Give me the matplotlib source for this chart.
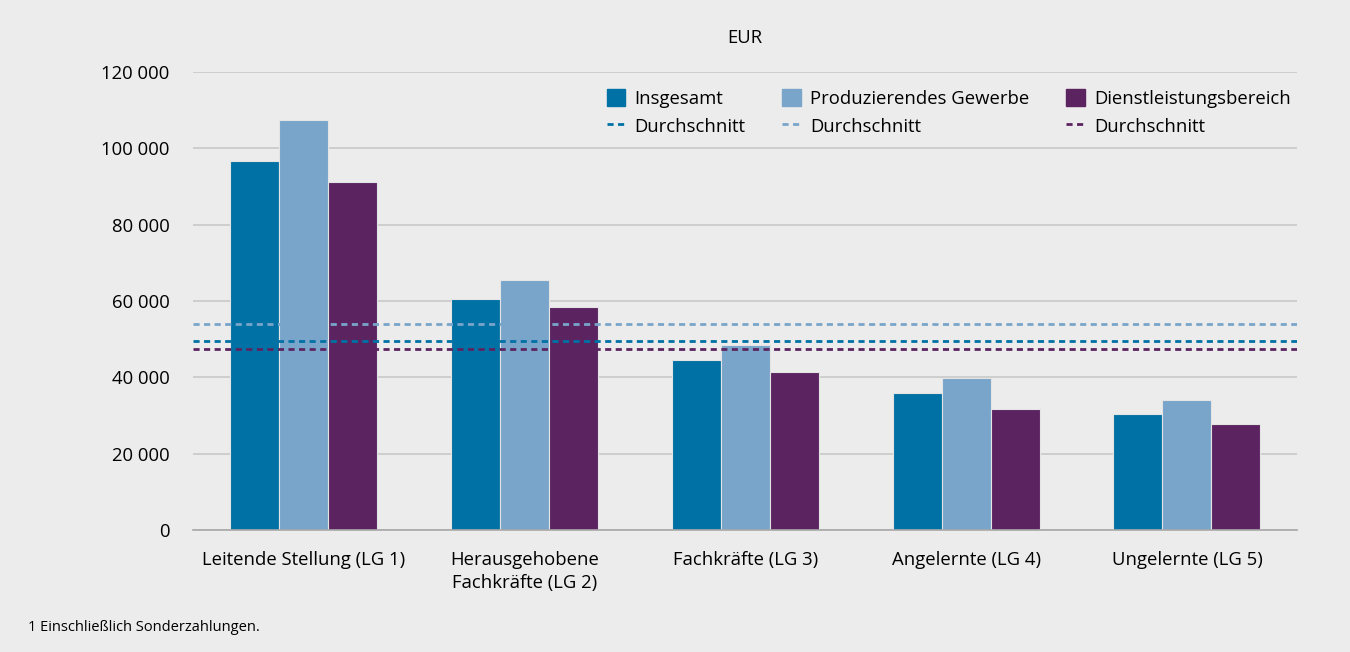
import matplotlib.pyplot as plt
import matplotlib.patches as mpatches
import matplotlib.lines as mlines
import numpy as np

plt.rcParams['font.family'] = ['Open Sans', 'DejaVu Sans']

# categories and values (EUR)
categories = ['Leitende Stellung (LG 1)', 'Herausgehobene\nFachkräfte (LG 2)',
              'Fachkräfte (LG 3)', 'Angelernte (LG 4)', 'Ungelernte (LG 5)']
insgesamt = [96700, 60500, 44500, 36000, 30300]
produzierend = [107400, 65500, 48500, 39900, 34100]
dienstleistung = [91200, 58400, 41400, 31700, 27800]

# averages
avg_insgesamt = 49600
avg_produzierend = 53900
avg_dienstleistung = 47400

series_names = ['Insgesamt', 'Produzierendes Gewerbe', 'Dienstleistungsbereich']
colors = ['#0071a4', '#79a5ca', '#5b2460']
bg = '#ececec'
fs = 13.3

fig = plt.figure(figsize=(13.5, 6.52), dpi=100, facecolor=bg)
ax = fig.add_axes([0.143, 0.187, 0.818, 0.703])
ax.set_facecolor(bg)

x = np.arange(len(categories))
w = 0.222
for i, (vals, c) in enumerate(zip([insgesamt, produzierend, dienstleistung], colors)):
    ax.bar(x + (i - 1) * w, vals, width=w, color=c, edgecolor='#e4e4e4',
           linewidth=0.8, zorder=2)

# average lines
avgs = [avg_insgesamt, avg_produzierend, avg_dienstleistung]
for a, c in zip(avgs, colors):
    ax.axhline(a, color=c, linestyle=(0, (2.2, 1.6)), linewidth=2, zorder=3)

ax.set_xlim(-0.5, 4.5)
ax.set_ylim(0, 120000)
ax.set_yticks(np.arange(0, 120001, 20000))
ax.set_yticklabels([f'{v:,}'.replace(',', ' ') for v in range(0, 120001, 20000)])
ax.set_xticks(x)
ax.set_xticklabels(categories, fontsize=fs, linespacing=1.35)
ax.tick_params(axis='both', length=0, labelsize=fs)
ax.tick_params(axis='y', pad=17)
ax.tick_params(axis='x', pad=15)
ax.grid(axis='y', color='#c8c8c8', linewidth=1.2, zorder=0)
ax.set_axisbelow(True)
for s in ['top', 'right', 'left']:
    ax.spines[s].set_visible(False)
ax.spines['bottom'].set_color('#a8a8a8')
ax.spines['bottom'].set_linewidth(1.2)

# legend: patches in row 1, dashed lines in row 2
handles = []
labels = []
for name, c in zip(series_names, colors):
    handles.append(mpatches.Patch(color=c))
    labels.append(name)
    handles.append(mlines.Line2D([], [], color=c, linestyle=(0, (2.2, 1.6)), linewidth=2))
    labels.append('Durchschnitt')
leg = ax.legend(handles, labels, ncol=3, loc='upper right',
                bbox_to_anchor=(1.004, 0.986), frameon=False, fontsize=fs,
                handlelength=1.0, handleheight=1.0, handletextpad=0.5,
                columnspacing=2.0, labelspacing=0.5, borderaxespad=0.2)

fig.text(0.552, 0.942, 'EUR', ha='center', va='center', fontsize=fs)
fig.text(0.021, 0.037, '1 Einschließlich Sonderzahlungen.', ha='left', va='center', fontsize=10.5)

fig.savefig('out.png', dpi=100, facecolor=bg)
